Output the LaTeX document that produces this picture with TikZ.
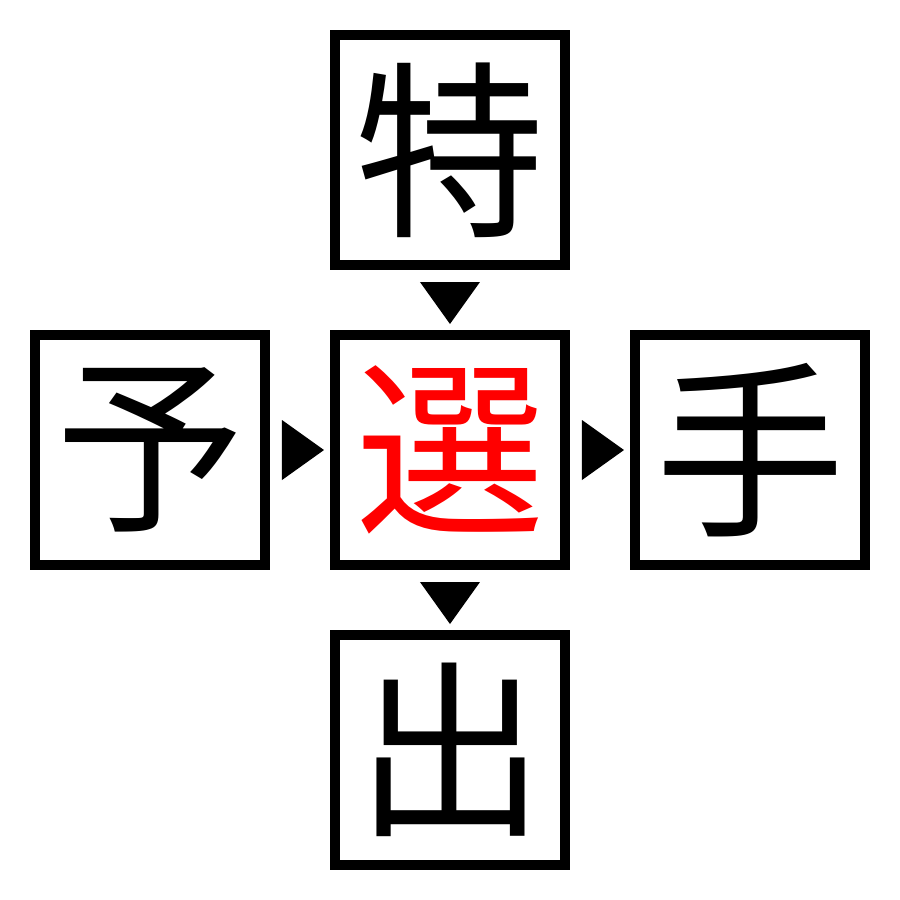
\documentclass[tikz,border=0pt]{standalone}
\usepackage{fontspec}
\newfontfamily\cjk{Noto Sans CJK JP}
\usetikzlibrary{positioning}

\begin{document}
\begin{tikzpicture}
\tikzstyle{kanji}=[rectangle, draw=black, line width=1mm, minimum size=23cm/10, inner sep=0mm, font=\cjk\fontsize{54}{54}\selectfont]
\tikzstyle{tri}=[fill=black]

\useasboundingbox (-4.5,-4.5) rectangle (4.5,4.5);

\node[kanji] at (0,3) (toku) {特};
\node[kanji] at (-3,0) (yo) {予};
\node[kanji, text=red] at (0,0) (sen) {選};
\node[kanji] at (3,0) (shu) {手};
\node[kanji] at (0,-3) (shutsu) {出};

% arrows between the boxes
\fill[tri] (-0.3,1.68) -- (0.3,1.68) -- (0,1.26) -- cycle;
\fill[tri] (-0.3,-1.32) -- (0.3,-1.32) -- (0,-1.74) -- cycle;
\fill[tri] (-1.68,0.3) -- (-1.68,-0.3) -- (-1.26,0) -- cycle;
\fill[tri] (1.32,0.3) -- (1.32,-0.3) -- (1.74,0) -- cycle;
\end{tikzpicture}
\end{document}
